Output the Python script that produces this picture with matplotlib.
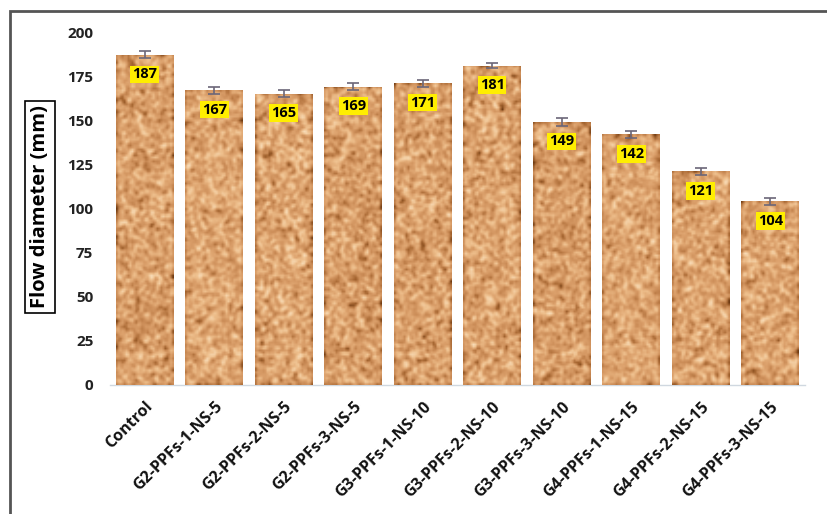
import numpy as np
import matplotlib
matplotlib.use("Agg")
import matplotlib.pyplot as plt
from matplotlib.colors import LinearSegmentedColormap
from matplotlib.patches import Rectangle

# Flow diameter values per mix
categories = ["Control", "G2-PPFs-1-NS-5", "G2-PPFs-2-NS-5", "G2-PPFs-3-NS-5",
              "G3-PPFs-1-NS-10", "G3-PPFs-2-NS-10", "G3-PPFs-3-NS-10",
              "G4-PPFs-1-NS-15", "G4-PPFs-2-NS-15", "G4-PPFs-3-NS-15"]
flow = [187, 167, 165, 169, 171, 181, 149, 142, 121, 104]
errors = [2, 2, 2, 2, 2, 1.5, 2, 2, 2, 2]
y_ticks = [0, 25, 50, 75, 100, 125, 150, 175, 200]

plt.rcParams['font.family'] = ['Open Sans', 'DejaVu Sans']

fig = plt.figure(figsize=(8.28, 5.14), dpi=100)
ax = fig.add_axes([110 / 828, 1 - 385 / 514, 695 / 828, 353 / 514])

x = np.arange(len(categories))
width = 0.83
bars = ax.bar(x, flow, width=width, color="#c98b5a", zorder=2)

# cork-like grain texture for the bars
rng = np.random.default_rng(7)
cork = LinearSegmentedColormap.from_list(
    "cork", ["#6e3a12", "#a4642f", "#c98a55", "#dca16c", "#eebf8c", "#f8dcb8"])


def grain(h, w):
    n = rng.random((h, w))
    k = np.array([0.25, 0.5, 0.25])
    n = np.apply_along_axis(lambda r: np.convolve(r, k, mode="same"), 1, n)
    n = np.apply_along_axis(lambda c: np.convolve(c, k, mode="same"), 0, n)
    n = (n - n.min()) / (n.max() - n.min())
    return n ** 0.8


for b in bars:
    x0, w, h = b.get_x(), b.get_width(), b.get_height()
    img = grain(int(h * 0.9), 30)
    im = ax.imshow(img, cmap=cork, extent=(x0, x0 + w, 0, h), aspect="auto",
                   interpolation="bilinear", zorder=3)
    im.set_clip_path(b)

ax.errorbar(x, flow, yerr=errors, fmt="none", ecolor="#6b6678", elinewidth=1.2,
            capsize=4, capthick=1.2, zorder=4)

for xi, v in zip(x, flow):
    ax.annotate(str(v), (xi, v), xytext=(0, -14), textcoords="offset points",
                ha="center", va="center", fontsize=10.5, fontweight="bold",
                color="black", zorder=5,
                bbox=dict(boxstyle="square,pad=0.12", fc="#ffee00", ec="none"))

ax.set_xlim(-0.5, len(categories) - 0.5)
ax.set_ylim(0, 200)
ax.set_yticks(y_ticks)
ax.set_yticklabels([str(t) for t in y_ticks], fontsize=11, fontweight="bold",
                   color="#222222")
ax.set_xticks(x)
ax.set_xticklabels(categories, rotation=45, ha="right", rotation_mode="anchor",
                   fontsize=11.5, fontweight="bold", color="#111111")
ax.tick_params(axis="both", length=0)
ax.tick_params(axis="y", pad=12)
ax.tick_params(axis="x", pad=10)
for s in ["top", "right", "left"]:
    ax.spines[s].set_visible(False)
ax.spines["bottom"].set_color("#d0d8e0")
ax.spines["bottom"].set_linewidth(1)

fig.text(40 / 828, 1 - 207 / 514, "Flow diameter (mm)", rotation=90,
         ha="center", va="center", fontsize=14.5, fontweight="bold",
         bbox=dict(boxstyle="square,pad=0.25", fc="white", ec="black", lw=1.2))

# outer frame
fig.patches.append(Rectangle((10 / 828, -0.05), 1.2, 1 - 11 / 514 + 0.05,
                             transform=fig.transFigure, fill=False,
                             ec="#555555", lw=2))

fig.savefig("out.png", dpi=100)
